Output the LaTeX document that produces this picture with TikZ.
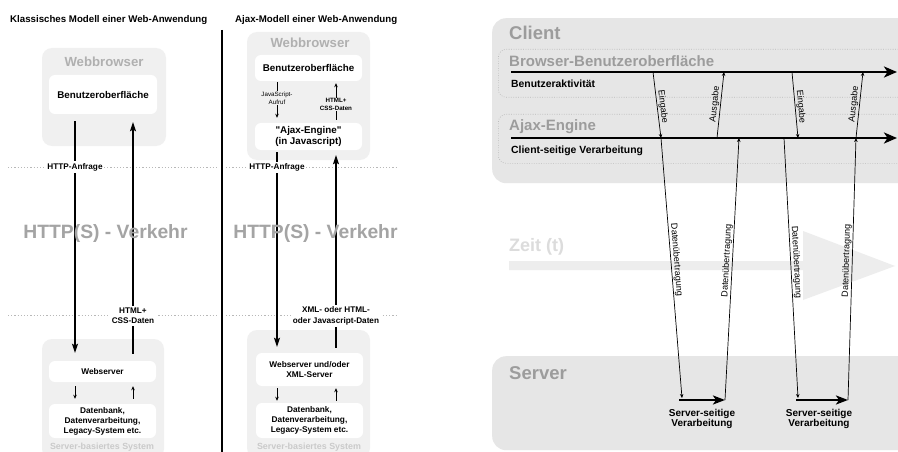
\documentclass[tikz,border=0pt]{standalone}
\usepackage{fontspec}
\setmainfont{Liberation Sans}[Ligatures=TeXOff]
\usetikzlibrary{arrows.meta,calc}

\definecolor{boxgray}{HTML}{F0F0F0}
\definecolor{lanegray}{HTML}{E6E6E6}
\definecolor{headgray}{HTML}{B0B0B0}
\definecolor{labelgray}{HTML}{A4A4A4}
\definecolor{lanetitle}{HTML}{9C9C9C}
\definecolor{faintgray}{HTML}{CACACA}
\definecolor{timegray}{HTML}{EDEDED}
\definecolor{timetext}{HTML}{DCDCDC}
\definecolor{dotgray}{HTML}{B8B8B8}

\newcommand{\fsz}[2]{\fontsize{#1}{#2}\selectfont}

\begin{document}
\begin{tikzpicture}[x=1pt,y=-1pt,
  panel/.style={fill=boxgray, rounded corners=10pt, inner sep=0pt},
  uibox/.style={fill=white, rounded corners=6pt, inner sep=0pt, align=center,
    font=\bfseries\fsz{9.8}{11}},
  srvbox/.style={fill=white, rounded corners=6pt, inner sep=0pt, align=center,
    font=\bfseries\fsz{8.3}{10}},
  paneltitle/.style={inner sep=0pt, font=\bfseries\fsz{13.2}{14}, text=headgray},
  heading/.style={inner sep=0pt, font=\bfseries\fsz{9.7}{11}},
  traffic/.style={inner sep=0pt, font=\bfseries\fsz{19.3}{20}, text=labelgray},
  msglabel/.style={fill=white, inner sep=1.8pt, align=center,
    font=\bfseries\fsz{8.2}{10.5}},
  tinylabel/.style={fill=boxgray, inner sep=1pt, align=center,
    font=\bfseries\fsz{6.2}{7.5}},
  tinyplain/.style={fill=boxgray, inner sep=1pt, align=center,
    font=\fsz{6.2}{8}},
  sysfoot/.style={inner sep=0pt, font=\bfseries\fsz{8.9}{10}, text=faintgray},
  longarrow/.style={line width=1.1pt, -{Stealth[length=9pt,width=6pt,inset=1.5pt]}},
  shortarrow/.style={line width=0.7pt, -{Stealth[length=4pt,width=3.5pt]}},
  zone/.style={dotgray, line width=0.8pt, dash pattern=on 1.2pt off 2pt},
  lanebox/.style={fill=lanegray, rounded corners=14pt, inner sep=0pt, anchor=north west},
  sublane/.style={draw=dotgray, line width=0.6pt, dash pattern=on 0.8pt off 1.6pt,
    rounded corners=8pt, inner sep=0pt, anchor=north west},
  lanename/.style={inner sep=0pt, anchor=west, font=\bfseries\fsz{15}{16}, text=lanetitle},
  bigname/.style={inner sep=0pt, anchor=west, font=\bfseries\fsz{18.5}{19}, text=lanetitle},
  activity/.style={inner sep=0pt, anchor=west, font=\bfseries\fsz{10.4}{12}},
  timeline/.style={line width=2.8pt, -{Stealth[length=13pt,width=11pt,inset=3.5pt]}},
  msg/.style={line width=0.7pt, -{Stealth[length=4pt,width=3.5pt]}},
  msgtext/.style={sloped, above, inner sep=1pt, font=\fsz{9}{10}},
  proc/.style={inner sep=0pt, align=center, font=\bfseries\fsz{10}{10.5}}
]
\useasboundingbox (0,0) rectangle (898,452);
\fill[white] (0,0) rectangle (898,452);
\clip (0,0) rectangle (898,452);

% ---------- classic model ----------
\node[heading, anchor=west] (titleA) at (10,20) {Klassisches Modell einer Web-Anwendung};
\node[panel, minimum width=124pt, minimum height=98pt] (wb1) at (104,97) {};
\node[paneltitle] (wb1name) at (104,62) {Webbrowser};
\node[uibox, minimum width=108pt, minimum height=39pt] (ui1) at (103,94.5) {Benutzeroberfläche};

\node[panel, minimum width=122pt, minimum height=120pt] (srv1) at (103,399) {};
\node[srvbox, minimum width=107pt, minimum height=21pt] (ws1) at (102.5,371.5) {Webserver};
\node[srvbox, minimum width=107pt, minimum height=34pt] (db1) at (102.5,421)
  {Datenbank,\\Datenverarbeitung,\\Legacy-System etc.};
\node[sysfoot] (srv1name) at (102,447) {Server-basiertes System};

% ---------- Ajax model ----------
\node[heading, anchor=west] (titleB) at (235,20) {Ajax-Modell einer Web-Anwendung};
\node[panel, minimum width=123pt, minimum height=128pt] (wb2) at (308.5,96) {};
\node[paneltitle] (wb2name) at (310,43) {Webbrowser};
\node[uibox, minimum width=107pt, minimum height=26pt] (ui2) at (308.5,68) {Benutzeroberfläche};
\node[uibox, minimum width=107pt, minimum height=27pt] (eng2) at (308.5,136.5)
  {"Ajax-Engine"\\(in Javascript)};

\node[panel, minimum width=123pt, minimum height=128pt] (srv2) at (308.5,394) {};
\node[srvbox, minimum width=107pt, minimum height=33pt] (ws2) at (309.5,369.5)
  {Webserver und/oder\\XML-Server};
\node[srvbox, minimum width=107pt, minimum height=35pt] (db2) at (309.5,420.5)
  {Datenbank,\\Datenverarbeitung,\\Legacy-System etc.};
\node[sysfoot] (srv2name) at (309,447) {Server-basiertes System};

% separator between the two models
\draw[line width=2.2pt] (222,30) -- (222,452);

% zone borders of the network traffic
\draw[zone] (8,167) -- (218,167);
\draw[zone] (226,167) -- (398,167);
\draw[zone] (8,315) -- (218,315);
\draw[zone] (226,315) -- (398,315);

% classic request / response
\draw[longarrow] ($(ui1.south)+(-28,7)$) -- ($(ws1.north)+(-27.5,-8)$)
  node[msglabel, pos=0.198] (req1) {HTTP-Anfrage};
\draw[longarrow] ($(ws1.north)+(30.5,-7)$) -- ($(ui1.south)+(30,8)$)
  node[msglabel, pos=0.164] (res1) {HTML+\\CSS-Daten};
\draw[shortarrow] ($(ws1.south)+(-27.5,4)$) -- ($(db1.north)+(-27.5,-5)$);
\draw[shortarrow] ($(db1.north)+(30.5,-5)$) -- ($(ws1.south)+(30.5,4)$);

% Ajax calls inside the browser
\draw[shortarrow] ($(ui2.south)+(-31.5,1)$) -- ($(eng2.north)+(-31.5,-5)$)
  node[tinyplain, pos=0.44] (jscall) {JavaScript-\\Aufruf};
\draw[shortarrow] ($(eng2.north)+(27.5,-3)$) -- ($(ui2.south)+(27.5,2)$)
  node[tinylabel, pos=0.42] (htmlback) {HTML+\\CSS-Daten};

% Ajax request / response
\draw[longarrow] ($(eng2.south)+(-31.5,2)$) -- ($(ws2.north)+(-32.5,-6)$)
  node[msglabel, pos=0.077] (req2) {HTTP-Anfrage};
\draw[longarrow] ($(ws2.north)+(26.5,-5)$) -- ($(eng2.south)+(27.5,5)$)
  node[msglabel, pos=0.166] (res2) {XML- oder HTML-\\oder Javascript-Daten};
\draw[shortarrow] ($(ws2.south)+(-32.5,2)$) -- ($(db2.north)+(-32.5,-2)$);
\draw[shortarrow] ($(db2.north)+(26.5,-2)$) -- ($(ws2.south)+(26.5,2)$);

\node[traffic] (trafficA) at (105.5,234) {HTTP(S) - Verkehr};
\node[traffic] (trafficB) at (315.5,234) {HTTP(S) - Verkehr};

% ---------- timing of an Ajax application ----------
\node[lanebox, minimum width=438pt, minimum height=165pt] (client) at (492,18) {};
\node[sublane, minimum width=432pt, minimum height=48pt] (uilane) at (498,49) {};
\node[sublane, minimum width=432pt, minimum height=49pt] (englane) at (498,114) {};
\node[lanebox, minimum width=438pt, minimum height=94pt] (server) at (492,356) {};

\node[bigname] (clientname) at (509,33) {Client};
\node[lanename] (uiname) at (509,61) {Browser-Benutzeroberfläche};
\node[lanename] (engname) at (509,127) {Ajax-Engine};
\node[bigname] (servername) at (509,373) {Server};
\node[activity] (uiact) at (511,84) {Benutzeraktivität};
\node[activity] (engact) at (511,151) {Client-seitige Verarbeitung};

% time axis
\fill[timegray] (509,261) -- (803,261) -- (803,231) -- (895,266) -- (803,300)
  -- (803,270) -- (509,270) -- cycle;
\node[inner sep=0pt, anchor=west, font=\bfseries\fsz{18}{19}, text=timetext] (zeit)
  at (509,247) {Zeit (t)};

% lane time lines
\coordinate (uistart) at (511,72);
\coordinate (uiend) at (897,72);
\coordinate (engstart) at (511,138);
\coordinate (engend) at (897,138);
\draw[timeline] (uistart) -- (uiend);
\draw[timeline] (engstart) -- (engend);

% events of the first round trip
\coordinate (in1top) at (653,72);
\coordinate (in1bot) at (661,138);
\coordinate (req1srv) at (682,398);
\coordinate (proc1a) at (679,400);
\coordinate (proc1b) at (725,400);
\coordinate (res1eng) at (739,138);
\coordinate (out1bot) at (717,138);
\coordinate (out1top) at (724,72);

% events of the second round trip
\coordinate (in2top) at (792,72);
\coordinate (in2bot) at (798,138);
\coordinate (req2eng) at (784,138);
\coordinate (req2srv) at (798,398);
\coordinate (proc2a) at (796,400);
\coordinate (proc2b) at (848,400);
\coordinate (res2eng) at (856,138);
\coordinate (out2bot) at (856,138);
\coordinate (out2top) at (863,72);

\draw[msg] (in1top) -- (in1bot) node[msgtext, pos=0.53] {Eingabe};
\draw[msg] (in1bot) -- (req1srv) node[msgtext, pos=0.47] {Datenübertragung};
\draw[timeline, line width=2.6pt, -{Stealth[length=12pt,width=9pt,inset=3pt]}] (proc1a) -- (proc1b);
\draw[msg] (proc1b) -- (res1eng) node[msgtext, pos=0.53] {Datenübertragung};
\draw[msg] (out1bot) -- (out1top) node[msgtext, pos=0.5] {Ausgabe};

\draw[msg] (in2top) -- (in2bot) node[msgtext, pos=0.53] {Eingabe};
\draw[msg] (req2eng) -- (req2srv) node[msgtext, pos=0.48] {Datenübertragung};
\draw[timeline, line width=2.6pt, -{Stealth[length=12pt,width=9pt,inset=3pt]}] (proc2a) -- (proc2b);
\draw[msg] (proc2b) -- (res2eng) node[msgtext, pos=0.53] {Datenübertragung};
\draw[msg] (out2bot) -- (out2top) node[msgtext, pos=0.5] {Ausgabe};

\node[proc] (proc1) at (702,419) {Server-seitige\\Verarbeitung};
\node[proc] (proc2) at (819,419) {Server-seitige\\Verarbeitung};
\end{tikzpicture}
\end{document}
